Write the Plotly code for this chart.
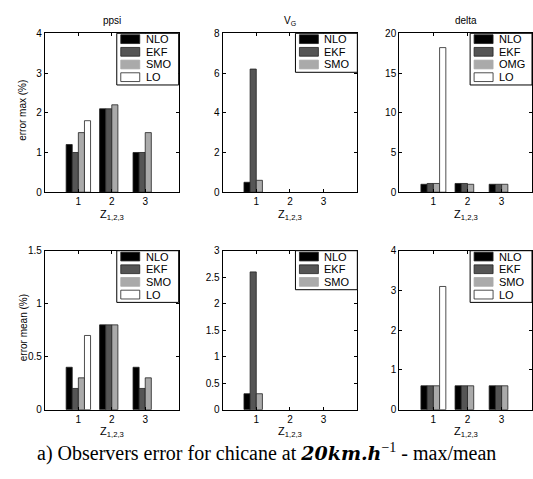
import plotly.graph_objects as go

W, H = 533, 479

groups = [1, 2, 3]
series = ["NLO", "EKF", "SMO", "LO"]
colors = {"NLO": "#000000", "EKF": "#555555", "SMO": "#aaaaaa", "LO": "#ffffff"}

# top row: error max (%)
ppsi_max = {"NLO": [1.2, 2.1, 1.0], "EKF": [1.0, 2.1, 1.0], "SMO": [1.5, 2.2, 1.5], "LO": [1.8, 0, 0]}
vg_max = {"NLO": [0.5, 0, 0], "EKF": [6.2, 0, 0], "SMO": [0.6, 0, 0], "LO": [0, 0, 0]}
delta_max = {"NLO": [1.0, 1.1, 1.0], "EKF": [1.1, 1.1, 1.0], "SMO": [1.1, 1.0, 1.0], "LO": [18.2, 0, 0]}
# bottom row: error mean (%)
ppsi_mean = {"NLO": [0.4, 0.8, 0.4], "EKF": [0.2, 0.8, 0.2], "SMO": [0.3, 0.8, 0.3], "LO": [0.7, 0, 0]}
vg_mean = {"NLO": [0.3, 0, 0], "EKF": [2.6, 0, 0], "SMO": [0.3, 0, 0], "LO": [0, 0, 0]}
delta_mean = {"NLO": [0.6, 0.6, 0.6], "EKF": [0.6, 0.6, 0.6], "SMO": [0.6, 0.6, 0.6], "LO": [3.1, 0, 0]}

panels = [
    dict(data=ppsi_max, yr=[0, 4], dt=1, names=["NLO", "EKF", "SMO", "LO"], title="ppsi", xr=[0, 4]),
    dict(data=vg_max, yr=[0, 8], dt=2, names=["NLO", "EKF", "SMO"], title="V<sub>G</sub>", xr=[0, 4]),
    dict(data=delta_max, yr=[0, 20], dt=5, names=["NLO", "EKF", "OMG", "LO"], title="delta", xr=[0, 3.89]),
    dict(data=ppsi_mean, yr=[0, 1.5], dt=0.5, names=["NLO", "EKF", "SMO", "LO"], title=None, xr=[0, 4]),
    dict(data=vg_mean, yr=[0, 3], dt=0.5, names=["NLO", "EKF", "SMO"], title=None, xr=[0, 4]),
    dict(data=delta_mean, yr=[0, 4], dt=1, names=["NLO", "EKF", "SMO", "LO"], title=None, xr=[0, 3.89]),
]

xdom_px = [(45, 179), (223, 358), (400, 533)]
ydom_px = [(28, 191), (251, 414)]

FONT = "Liberation Sans, Arial, sans-serif"


def px_x(v):
    return v / W


def px_y(v):
    return 1 - v / H


fig = go.Figure()
shapes = []
annotations = []
layout = dict(width=W, height=H, margin=dict(l=0, r=0, t=0, b=0),
              paper_bgcolor="white", plot_bgcolor="white",
              barmode="group", bargap=0.27, bargroupgap=0, showlegend=False,
              font=dict(family=FONT, size=10, color="black"))

for i, p in enumerate(panels):
    row, col = divmod(i, 3)
    k = "" if i == 0 else str(i + 1)
    for j, s in enumerate(series):
        vals = p["data"][s]
        fig.add_trace(go.Bar(
            x=groups, y=vals, name=s,
            marker=dict(color=colors[s],
                        line=dict(color="#222222", width=[0.8 if v > 0 else 0 for v in vals])),
            xaxis="x" + k, yaxis="y" + k,
        ))
    x0, x1 = xdom_px[col]
    y0, y1 = ydom_px[row]
    common = dict(showgrid=False, zeroline=False, showline=True, linecolor="black",
                  linewidth=1, mirror="ticks", ticks="inside", ticklen=3,
                  tickcolor="black", tickfont=dict(size=10))
    layout["xaxis" + k] = dict(domain=[x0 / W, x1 / W], range=p["xr"], tickvals=groups,
                               anchor="y" + k, **common)
    layout["yaxis" + k] = dict(domain=[1 - y1 / H, 1 - y0 / H], range=p["yr"], dtick=p["dt"],
                               anchor="x" + k, **common)

    # legend box (drawn as layout decoration)
    names = p["names"]
    n = len(names)
    lx0 = x1 - 62
    shapes.append(dict(type="rect", xref="paper", yref="paper",
                       x0=px_x(lx0), x1=px_x(x1), y0=px_y(y0 + 1 + 13 * n), y1=px_y(y0),
                       line=dict(color="black", width=1), fillcolor="white", layer="above"))
    for j, nm in enumerate(names):
        s = series[j]
        ty = y0 + 1.5 + 13 * j
        shapes.append(dict(type="rect", xref="paper", yref="paper",
                           x0=px_x(lx0 + 4), x1=px_x(lx0 + 23), y0=px_y(ty + 9), y1=px_y(ty),
                           line=dict(color="#aaaaaa" if s == "SMO" else "#222222", width=0.8),
                           fillcolor=colors[s], layer="above"))
        annotations.append(dict(text=nm, x=px_x(lx0 + 27), y=px_y(ty + 4.5),
                                xanchor="left", yanchor="middle", xref="paper", yref="paper",
                                showarrow=False, font=dict(size=11)))

    cx = (x0 + x1) / 2
    if p["title"]:
        annotations.append(dict(text=p["title"], x=px_x(cx), y=px_y(15),
                                xanchor="center", yanchor="middle",
                                xref="paper", yref="paper", showarrow=False,
                                font=dict(size=10)))
    annotations.append(dict(text="Z<sub>1,2,3</sub>", x=px_x(cx), y=px_y(y1 + 14),
                            xanchor="center", yanchor="top",
                            xref="paper", yref="paper", showarrow=False,
                            font=dict(size=11)))
    if col == 0:
        annotations.append(dict(text="error max (%)" if row == 0 else "error mean (%)",
                                x=px_x(23), y=px_y((y0 + y1) / 2 - 3), textangle=-90,
                                xanchor="center", yanchor="middle",
                                xref="paper", yref="paper", showarrow=False,
                                font=dict(size=10)))

annotations.append(dict(
    text=("a) Observers error for chicane at "
          "<span style=\"font-family:'DejaVu Serif';font-size:19px\"><b><i>20km.h</i></b></span>"
          "<sup>\u22121</sup> - max/mean"),
    x=px_x(267), y=px_y(458), xanchor="center", yanchor="middle",
    xref="paper", yref="paper", showarrow=False,
    font=dict(family="Liberation Serif, Times New Roman, serif", size=20)))

layout["shapes"] = shapes
layout["annotations"] = annotations
fig.update_layout(**layout)
fig.write_html("out.html")
